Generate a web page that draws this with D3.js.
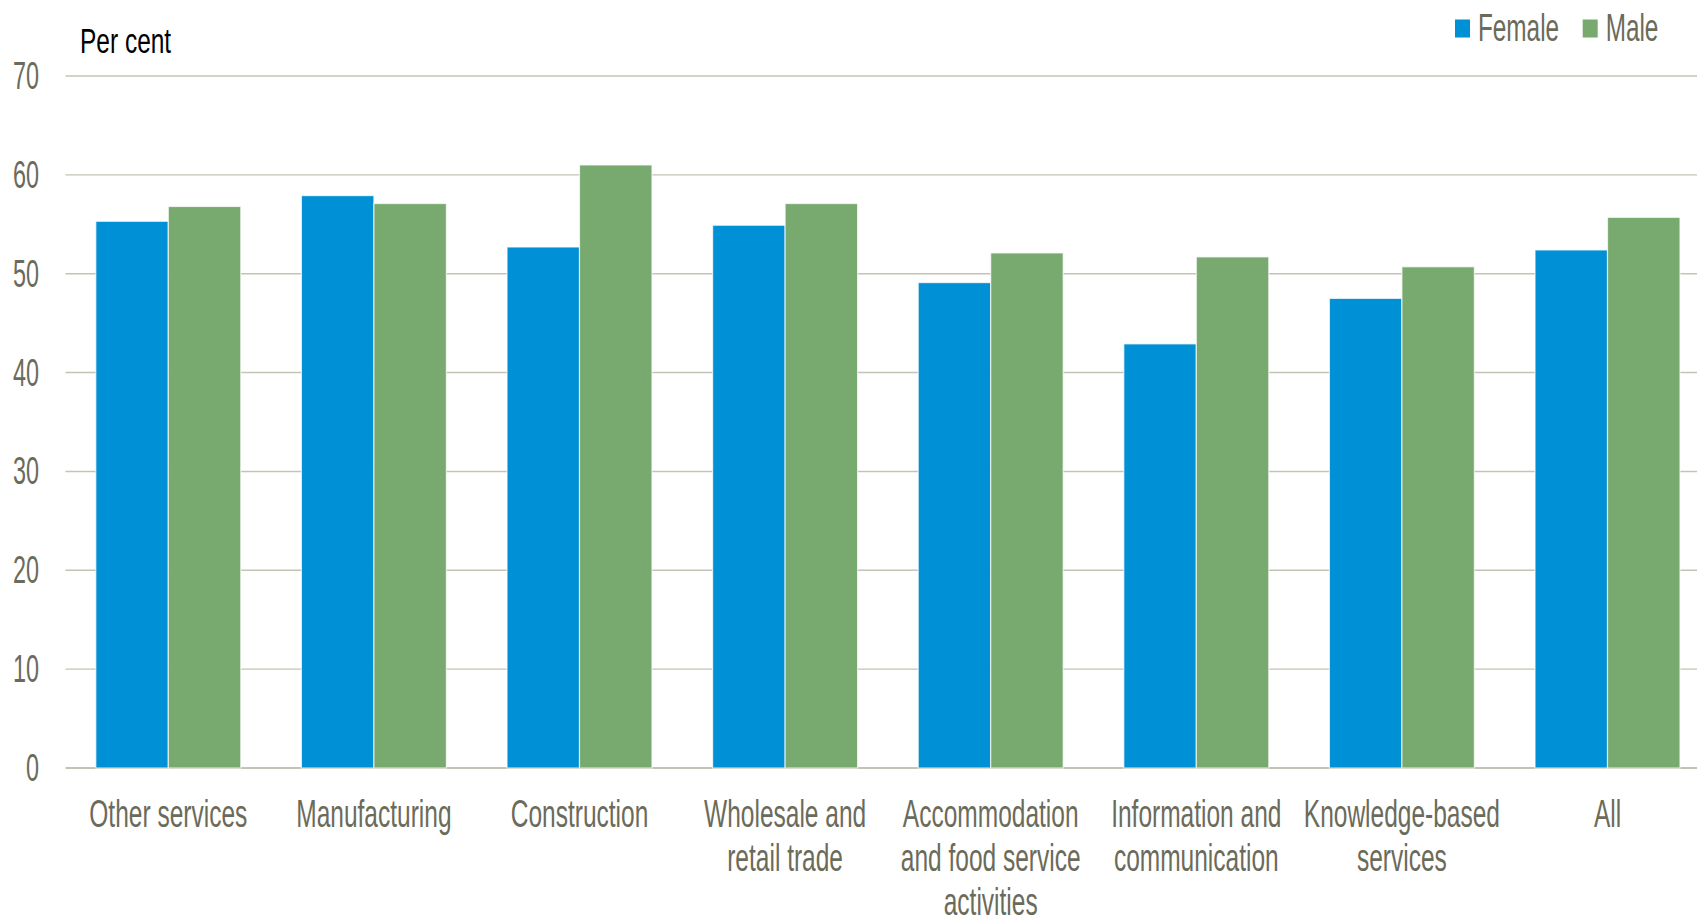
<!DOCTYPE html>
<html>
<head>
<meta charset="utf-8">
<script src="https://cdn.jsdelivr.net/npm/d3@7/dist/d3.min.js"></script>
<style>
  html, body { margin: 0; padding: 0; background: #ffffff; }
  svg { display: block; }
  text { font-family: "Liberation Sans", Arial, sans-serif; }
</style>
</head>
<body>
<svg id="chart" width="1697" height="919"></svg>
<script>
const categories = ["Other services", "Manufacturing", "Construction", "Wholesale and\nretail trade",
  "Accommodation\nand food service\nactivities", "Information and\ncommunication",
  "Knowledge-based\nservices", "All"];
const seriesNames = ["Female", "Male"];
const female = [55.3, 57.9, 52.7, 54.9, 49.1, 42.9, 47.5, 52.4];
const male   = [56.8, 57.1, 61.0, 57.1, 52.1, 51.7, 50.7, 55.7];
const yTicks = [0, 10, 20, 30, 40, 50, 60, 70];
const colors = ["#0090d5", "#78aa70"];

const svg = d3.select("#chart");
const W = 1697, H = 919;
const left = 65.5, step = 205.6;
const x = d3.scaleBand().domain(categories).range([left, left + step * categories.length])
  .paddingInner(0.295).paddingOuter(0.1475);
const xs = d3.scaleBand().domain(seriesNames).range([0, x.bandwidth()]);
const y = d3.scaleLinear().domain([0, 70]).range([768, 76]);

const textColor = "#6b6b5b";

// gridlines
svg.append("g").selectAll("line").data(yTicks).join("line")
  .attr("x1", left).attr("x2", W)
  .attr("y1", d => y(d)).attr("y2", d => y(d))
  .attr("stroke", d => d === 0 ? "#aeae9e" : "#c3c3b6")
  .attr("stroke-width", 1.4);

// y tick labels
svg.append("g").selectAll("text").data(yTicks).join("text")
  .attr("transform", d => `translate(39,${y(d) + 13}) scale(0.6,1)`)
  .attr("text-anchor", "end")
  .attr("font-size", 39)
  .attr("fill", textColor)
  .text(d => d);

// bars
const data = categories.map((c, i) => ({ cat: c, vals: [female[i], male[i]] }));
const groups = svg.append("g").selectAll("g").data(data).join("g")
  .attr("transform", d => `translate(${x(d.cat)},0)`);
groups.selectAll("rect").data(d => d.vals.map((v, j) => ({ s: seriesNames[j], v, j }))).join("rect")
  .attr("x", d => xs(d.s))
  .attr("width", xs.bandwidth())
  .attr("y", d => y(d.v))
  .attr("height", d => y(0) - y(d.v))
  .attr("fill", d => colors[d.j])
  .attr("stroke", "#ffffff")
  .attr("stroke-opacity", 0.7)
  .attr("stroke-width", 1.2);

// x labels
const xl = svg.append("g").selectAll("text").data(categories).join("text")
  .attr("transform", d => `translate(${x(d) + x.bandwidth() / 2},826.5) scale(0.645,1)`)
  .attr("text-anchor", "middle")
  .attr("font-size", 38)
  .attr("fill", textColor);
xl.selectAll("tspan").data(d => d.split("\n")).join("tspan")
  .attr("x", 0)
  .attr("dy", (d, i) => i === 0 ? 0 : 44.5)
  .text(d => d);

// y unit title
svg.append("text")
  .attr("transform", "translate(80,53) scale(0.7,1)")
  .attr("font-size", 35)
  .attr("fill", "#000000")
  .text("Per cent");

// legend
const legendX = [1455, 1582.7];
const lg = svg.append("g").selectAll("g").data(seriesNames).join("g")
  .attr("transform", (d, i) => `translate(${legendX[i]},0)`);
lg.append("rect").attr("x", 0).attr("y", 19.5).attr("width", 15).attr("height", 18)
  .attr("fill", (d, i) => colors[i]);
lg.append("text")
  .attr("transform", "translate(23,40.5) scale(0.64,1)")
  .attr("font-size", 38)
  .attr("fill", textColor)
  .text(d => d);
</script>
</body>
</html>
